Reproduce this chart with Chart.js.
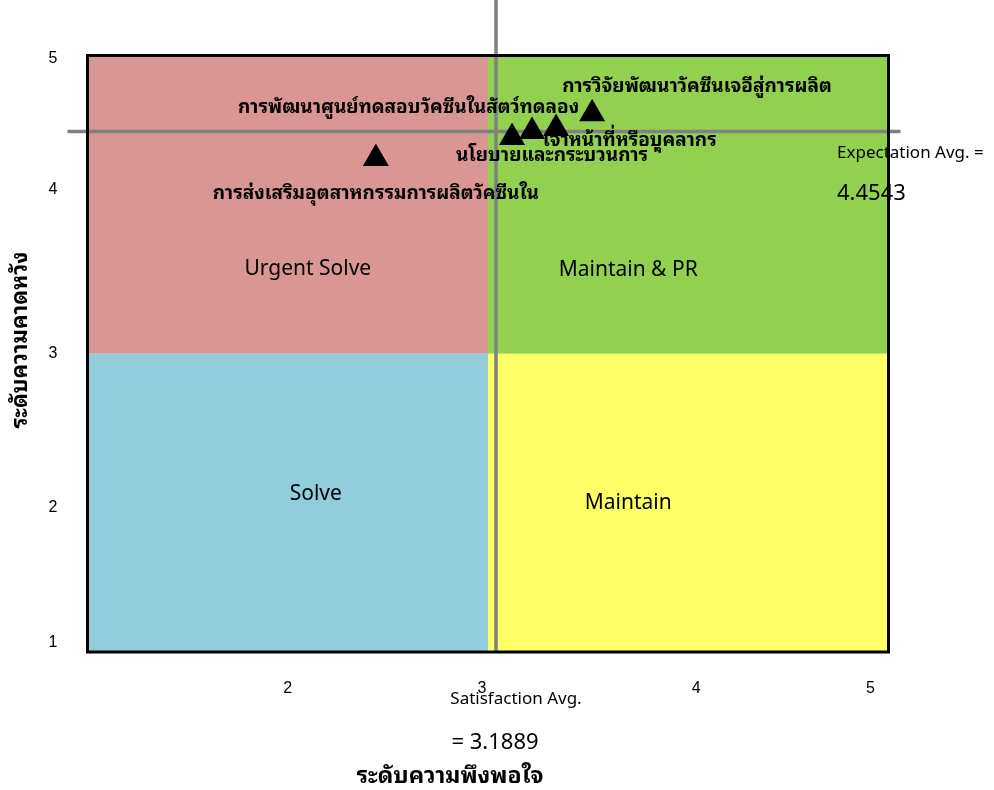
<!DOCTYPE html>
<html>
<head>
<meta charset="utf-8">
<script src="https://cdn.jsdelivr.net/npm/chart.js@4"></script>
<style>
  body { margin: 0; background: #fff; }
  #wrap { width: 994px; height: 790px; }
</style>
</head>
<body>
<div id="wrap"><canvas id="chart" width="994" height="790"></canvas></div>
<script>
// data
const pointNames = [
  'การส่งเสริมอุตสาหกรรมการผลิตวัคซีนใน',
  "นโยบายและกระบวนการ '",
  'การพัฒนาศูนย์ทดสอบวัคซีนในสัตว์ทดลอง',
  'เจ้าหน้าที่หรือบุคลากร',
  'การวิจัยพัฒนาวัคซีนเจอีสู่การผลิต'
];
const satisfaction = [2.44, 3.12, 3.22, 3.34, 3.52];
const expectation = [4.31, 4.45, 4.49, 4.51, 4.61];

const xTickAt = [2.0, 2.97, 4.04, 4.91];
const xTickLabels = ['2', '3', '4', '5'];
const yTickAt = [1.06, 1.97, 3.0, 4.1, 4.98];
const yTickLabels = ['1', '2', '3', '4', '5'];

const quadrantNames = ['Urgent Solve', 'Maintain & PR', 'Solve', 'Maintain'];
const quadrantLabelAt = [[2.10, 3.57], [3.70, 3.56], [2.14, 2.06], [3.70, 2.00]];
const splitX = 3;
const splitY = 3;

// where the two average lines sit in the picture, and what their captions say
const avgLineX = 3.04;
const avgLineY = 4.49;
const satisfactionAvg = '3.1889';
const expectationAvg = '4.4543';

const quadColors = ['#DA9694', '#92D050', '#92CDDC', '#FFFF66'];
// label offsets from each triangle (px) and alignment
const labelOffsets = [[0, 35, 'center'], [-56, 18, 'left'], [-294, -24, 'left'], [-13, 12, 'left'], [-30, -27, 'left']];

const TH = "'Noto Sans Thai Looped', 'Noto Sans Thai', Tahoma, 'Noto Sans', sans-serif";
const LAT = "'Noto Sans', 'Open Sans', sans-serif";

const quadrants = {
  id: 'quadrants',
  beforeDatasetsDraw(chart) {
    const { ctx, chartArea: a, scales: { x, y } } = chart;
    const mx = x.getPixelForValue(splitX);
    const my = y.getPixelForValue(splitY);
    ctx.save();
    const rects = [
      [a.left, a.top, mx, my],
      [mx, a.top, a.right, my],
      [a.left, my, mx, a.bottom],
      [mx, my, a.right, a.bottom]
    ];
    rects.forEach((r, i) => {
      ctx.fillStyle = quadColors[i];
      ctx.fillRect(r[0], r[1], r[2] - r[0], r[3] - r[1]);
    });

    ctx.fillStyle = '#000';
    ctx.font = '21px ' + LAT;
    ctx.textAlign = 'center';
    ctx.textBaseline = 'middle';
    quadrantNames.forEach((n, i) => {
      ctx.fillText(n, x.getPixelForValue(quadrantLabelAt[i][0]), y.getPixelForValue(quadrantLabelAt[i][1]));
    });

    // average lines
    const ax = x.getPixelForValue(avgLineX);
    const ay = y.getPixelForValue(avgLineY);
    ctx.strokeStyle = '#808080';
    ctx.lineWidth = 3.5;
    ctx.beginPath();
    ctx.moveTo(ax, 0);
    ctx.lineTo(ax, a.bottom);
    ctx.moveTo(a.left - 20, ay);
    ctx.lineTo(a.right + 12, ay);
    ctx.stroke();
    ctx.restore();
  },
  afterDatasetsDraw(chart) {
    const { ctx, chartArea: a, scales: { x, y } } = chart;
    ctx.save();
    ctx.strokeStyle = '#000';
    ctx.lineWidth = 3;
    ctx.strokeRect(a.left, a.top, a.right - a.left, a.bottom - a.top);

    ctx.fillStyle = '#000';
    ctx.font = 'bold 19px ' + TH;
    ctx.textBaseline = 'middle';
    pointNames.forEach((n, i) => {
      const o = labelOffsets[i];
      ctx.textAlign = o[2];
      ctx.fillText(n, x.getPixelForValue(satisfaction[i]) + o[0], y.getPixelForValue(expectation[i]) + o[1]);
    });

    // captions for the averages and the axis titles
    ctx.textAlign = 'left';
    ctx.font = '17px ' + LAT;
    ctx.fillText('Expectation Avg. =', 837, 153);
    ctx.font = '22px ' + LAT;
    ctx.fillText(expectationAvg, 837, 194);
    ctx.textAlign = 'center';
    ctx.font = '17px ' + LAT;
    ctx.fillText('Satisfaction Avg.', 516, 699);
    ctx.font = '22px ' + LAT;
    ctx.fillText('= ' + satisfactionAvg, 495, 743);
    ctx.font = 'bold 23px ' + TH;
    ctx.fillText('ระดับความพึงพอใจ', 450, 777);

    ctx.translate(21, 340);
    ctx.rotate(-Math.PI / 2);
    ctx.font = 'bold 22px ' + TH;
    ctx.fillText('ระดับความคาดหวัง', 0, 0);
    ctx.restore();
  }
};

const ctx = document.getElementById('chart').getContext('2d');
new Chart(ctx, {
  type: 'scatter',
  data: {
    datasets: [{
      data: satisfaction.map((v, i) => ({ x: v, y: expectation[i] })),
      pointStyle: 'triangle',
      pointRadius: 15,
      pointHoverRadius: 15,
      backgroundColor: '#000',
      borderColor: '#000',
      borderWidth: 0
    }]
  },
  options: {
    responsive: false,
    animation: false,
    events: [],
    layout: { padding: { left: 0, top: 55.5, right: 105.5, bottom: 0 } },
    plugins: { legend: { display: false }, tooltip: { enabled: false } },
    scales: {
      x: {
        min: 1, max: 5,
        grid: { display: false, drawTicks: false },
        border: { display: false },
        afterBuildTicks: s => { s.ticks = xTickAt.map(v => ({ value: v })); },
        afterFit: s => { s.height = 138; },
        ticks: {
          autoSkip: false, maxRotation: 0, padding: 27, color: '#000',
          font: { family: "'Liberation Sans', Arial, sans-serif", size: 16 },
          callback: (v, i) => xTickLabels[i]
        }
      },
      y: {
        min: 1, max: 5,
        grid: { display: false, drawTicks: false },
        border: { display: false },
        afterBuildTicks: s => { s.ticks = yTickAt.map(v => ({ value: v })); },
        afterFit: s => { s.width = 87.5; },
        ticks: {
          autoSkip: false, padding: 30, color: '#000',
          font: { family: "'Liberation Sans', Arial, sans-serif", size: 16 },
          callback: (v, i) => yTickLabels[i]
        }
      }
    }
  },
  plugins: [quadrants]
});
</script>
</body>
</html>
